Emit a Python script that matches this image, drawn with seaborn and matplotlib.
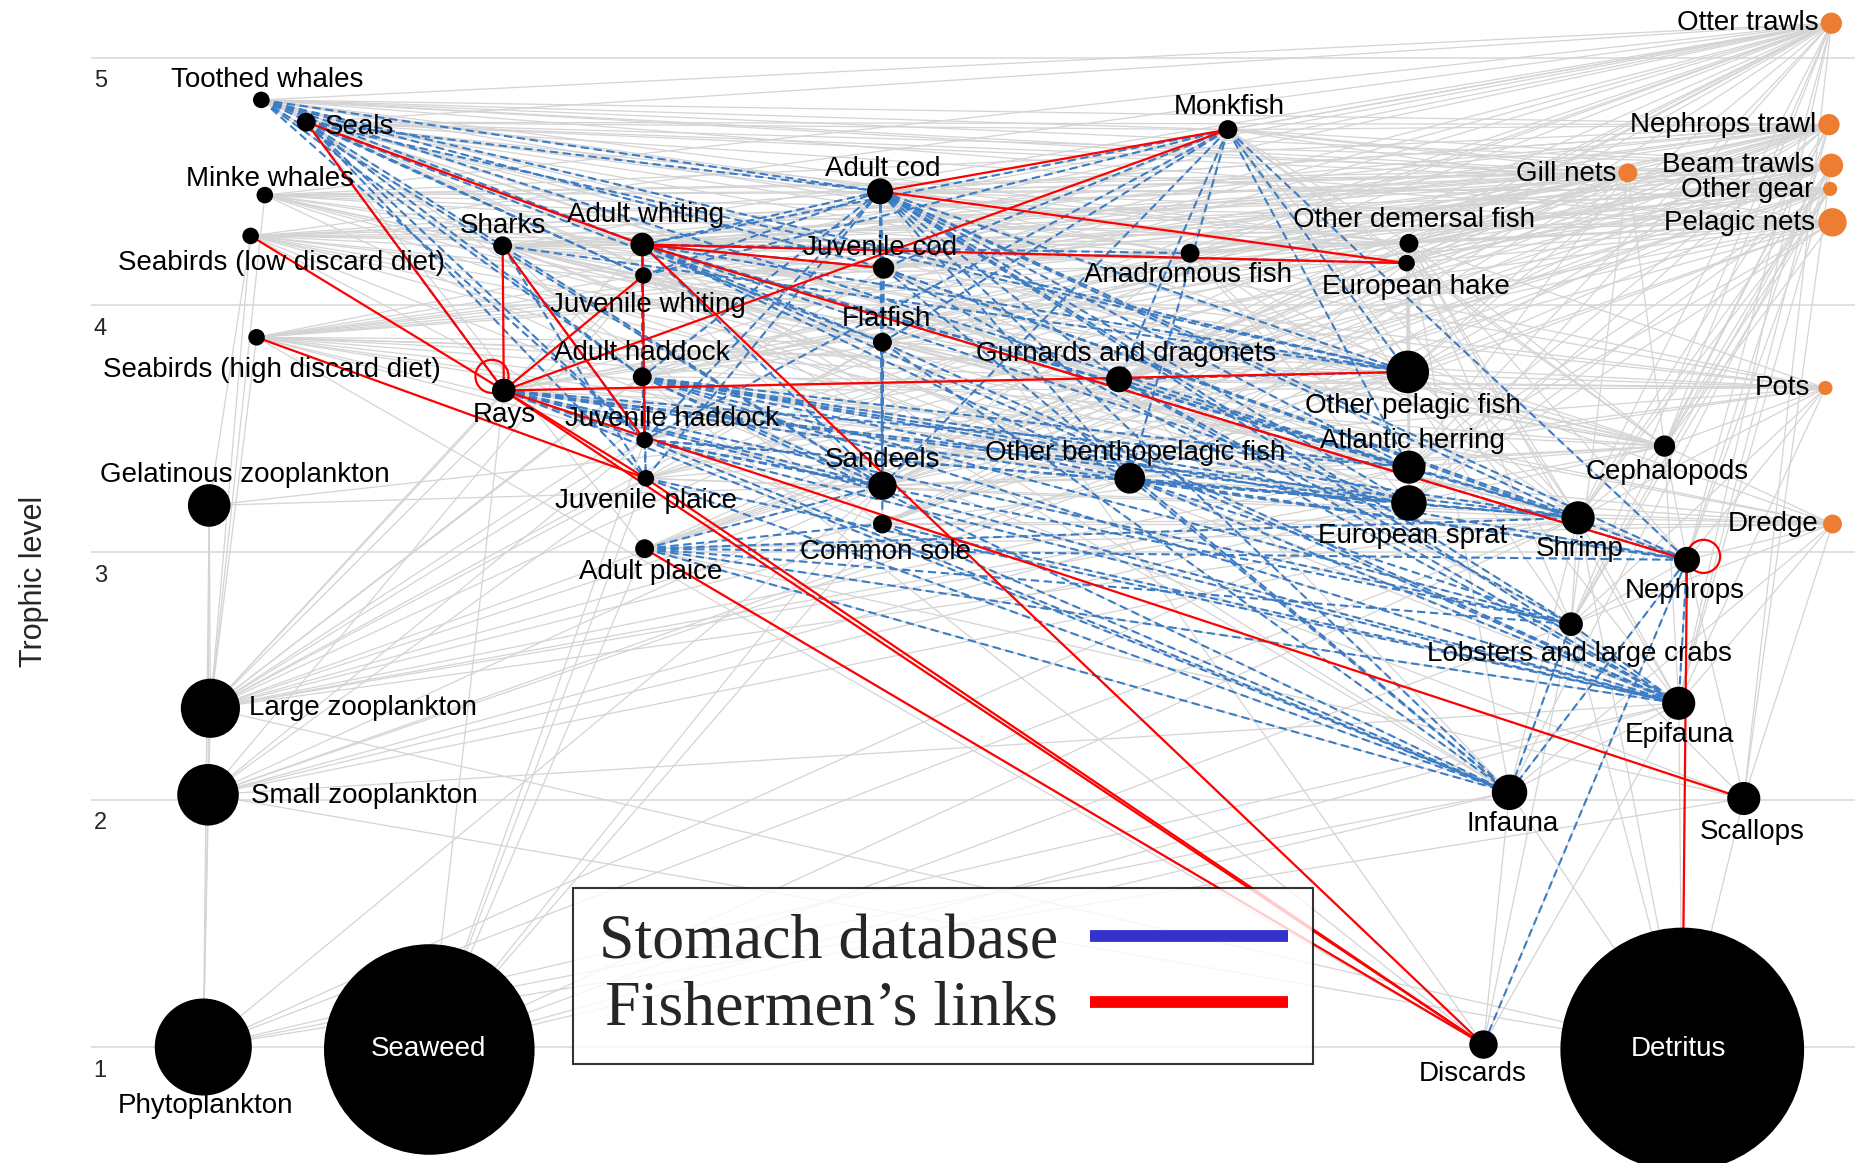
import pandas as pd
import seaborn as sns
import matplotlib.pyplot as plt
from matplotlib.lines import Line2D

# Food web groups: trophic level, layout position and node radius (px)
species = ['Toothed whales', 'Seals', 'Minke whales', 'Seabirds (low discard diet)',
           'Seabirds (high discard diet)', 'Sharks', 'Rays', 'Adult whiting', 'Juvenile whiting',
           'Adult haddock', 'Juvenile haddock', 'Juvenile plaice', 'Adult plaice', 'Adult cod',
           'Juvenile cod', 'Flatfish', 'Sandeels', 'Common sole', 'Monkfish', 'Anadromous fish',
           'Gurnards and dragonets', 'Other benthopelagic fish', 'Other demersal fish',
           'European hake', 'Other pelagic fish', 'Atlantic herring', 'European sprat', 'Shrimp',
           'Cephalopods', 'Nephrops', 'Lobsters and large crabs', 'Epifauna', 'Infauna',
           'Scallops', 'Discards', 'Detritus', 'Seaweed', 'Phytoplankton', 'Small zooplankton',
           'Large zooplankton', 'Gelatinous zooplankton']
trophic_level = [4.83, 4.74, 4.445, 4.28, 3.87, 4.24, 3.655, 4.245, 4.12, 3.71, 3.455, 3.30,
                 3.015, 4.46, 4.15, 3.85, 3.27, 3.115, 4.71, 4.21, 3.70, 3.30, 4.25, 4.17, 3.73,
                 3.345, 3.20, 3.14, 3.43, 2.97, 2.71, 2.39, 2.03, 2.005, 1.01, 0.99, 0.99, 1.0,
                 2.02, 2.37, 3.19]
layout_x = [22.1, 25.9, 22.4, 21.2, 21.7, 42.5, 42.6, 54.3, 54.4, 54.3, 54.5, 54.6, 54.5, 74.4,
            74.7, 74.6, 74.6, 74.6, 103.8, 100.6, 94.6, 95.5, 119.1, 118.9, 119.0, 119.1, 119.1,
            133.4, 140.7, 142.6, 132.8, 141.9, 127.6, 147.4, 125.4, 142.2, 36.3, 17.2, 17.6,
            17.8, 17.7]
node_radius = [7, 8, 7, 7, 7, 8, 10, 10, 7, 8, 7, 7, 8, 11, 9, 8, 12, 8, 8, 8, 11, 13, 8, 7,
               18, 14, 15, 14, 9, 11, 10, 14, 15, 14, 12, 103, 89, 41, 26, 25, 18]

# Fishing fleets
fleets = ['Otter trawls', 'Nephrops trawl', 'Gill nets', 'Beam trawls', 'Other gear',
          'Pelagic nets', 'Pots', 'Dredge']
fleet_level = [5.14, 4.73, 4.535, 4.565, 4.47, 4.335, 3.665, 3.115]
fleet_x = [154.8, 154.6, 137.6, 154.8, 154.7, 154.9, 154.3, 154.9]
fleet_radius = [9, 9, 8, 10, 6, 12, 6, 8]

# Trophic links from the model (grey)
diet = {
    'Toothed whales': ['Adult cod', 'Juvenile cod', 'Adult whiting', 'Juvenile whiting', 'Adult haddock',
                       'Monkfish', 'Other demersal fish', 'European hake', 'Other pelagic fish',
                       'Atlantic herring', 'Anadromous fish', 'Cephalopods', 'Gurnards and dragonets',
                       'Other benthopelagic fish', 'Sandeels', 'Flatfish'],
    'Seals': ['Adult cod', 'Juvenile cod', 'Adult whiting', 'Juvenile whiting', 'Adult haddock',
              'Juvenile haddock', 'Monkfish', 'Other demersal fish', 'European hake', 'Anadromous fish',
              'Other pelagic fish', 'Atlantic herring', 'Sandeels', 'Flatfish', 'Juvenile plaice',
              'Adult plaice', 'Common sole', 'Cephalopods', 'Gurnards and dragonets',
              'Other benthopelagic fish', 'Rays'],
    'Minke whales': ['Atlantic herring', 'European sprat', 'Sandeels', 'Other pelagic fish', 'Adult whiting',
                     'Juvenile whiting', 'Adult cod', 'Other demersal fish', 'Anadromous fish',
                     'Large zooplankton', 'Gurnards and dragonets', 'Other benthopelagic fish'],
    'Seabirds (low discard diet)': ['Sandeels', 'European sprat', 'Atlantic herring', 'Other pelagic fish',
                                    'Juvenile whiting', 'Juvenile haddock', 'Juvenile cod',
                                    'Gurnards and dragonets', 'Other benthopelagic fish', 'Large zooplankton',
                                    'Gelatinous zooplankton', 'Anadromous fish', 'Other demersal fish'],
    'Seabirds (high discard diet)': ['Discards', 'Sandeels', 'European sprat', 'Atlantic herring',
                                     'Other pelagic fish', 'Juvenile whiting', 'Juvenile haddock',
                                     'Gurnards and dragonets', 'Other benthopelagic fish', 'Cephalopods',
                                     'Large zooplankton', 'Flatfish', 'Other demersal fish'],
    'Sharks': ['Adult whiting', 'Juvenile whiting', 'Adult haddock', 'Juvenile haddock', 'Juvenile cod',
               'Other demersal fish', 'European hake', 'Other pelagic fish', 'Atlantic herring', 'Sandeels',
               'Flatfish', 'Gurnards and dragonets', 'Other benthopelagic fish', 'Cephalopods', 'Shrimp',
               'Epifauna', 'Rays'],
    'Rays': ['Shrimp', 'Epifauna', 'Infauna', 'Nephrops', 'Lobsters and large crabs', 'Sandeels',
             'Common sole', 'Juvenile plaice', 'Gurnards and dragonets', 'Other benthopelagic fish',
             'Large zooplankton', 'Discards', 'Cephalopods', 'Atlantic herring', 'European sprat'],
    'Adult cod': ['Juvenile cod', 'Adult whiting', 'Juvenile whiting', 'Juvenile haddock', 'Sandeels',
                  'Atlantic herring', 'European sprat', 'Other pelagic fish', 'Other demersal fish',
                  'Gurnards and dragonets', 'Other benthopelagic fish', 'Shrimp', 'Nephrops',
                  'Lobsters and large crabs', 'Epifauna', 'Infauna', 'Cephalopods', 'Common sole',
                  'Juvenile plaice', 'Flatfish', 'Discards', 'Large zooplankton'],
    'Monkfish': ['Adult whiting', 'Juvenile whiting', 'Juvenile cod', 'Adult haddock', 'Juvenile haddock',
                 'Gurnards and dragonets', 'Other benthopelagic fish', 'Other demersal fish', 'European hake',
                 'Flatfish', 'Sandeels', 'Atlantic herring', 'Other pelagic fish', 'Cephalopods', 'Shrimp',
                 'Nephrops', 'Lobsters and large crabs', 'Epifauna', 'Rays', 'Anadromous fish'],
    'Adult whiting': ['Juvenile whiting', 'Juvenile cod', 'Juvenile haddock', 'Sandeels', 'Atlantic herring',
                      'European sprat', 'Other pelagic fish', 'Gurnards and dragonets',
                      'Other benthopelagic fish', 'Shrimp', 'Nephrops', 'Epifauna', 'Infauna',
                      'Large zooplankton', 'Cephalopods', 'Discards', 'Flatfish'],
    'Juvenile whiting': ['Sandeels', 'European sprat', 'Shrimp', 'Large zooplankton', 'Small zooplankton',
                         'Epifauna', 'Infauna', 'Juvenile haddock'],
    'Juvenile cod': ['Sandeels', 'Shrimp', 'Large zooplankton', 'Epifauna', 'Infauna', 'Nephrops',
                     'Lobsters and large crabs', 'European sprat', 'Atlantic herring', 'Juvenile whiting'],
    'Adult haddock': ['Sandeels', 'Epifauna', 'Infauna', 'Shrimp', 'European sprat', 'Atlantic herring',
                      'Large zooplankton', 'Nephrops', 'Lobsters and large crabs', 'Scallops', 'Discards'],
    'Juvenile haddock': ['Epifauna', 'Infauna', 'Large zooplankton', 'Small zooplankton', 'Shrimp', 'Sandeels'],
    'Juvenile plaice': ['Infauna', 'Epifauna', 'Small zooplankton', 'Large zooplankton', 'Shrimp'],
    'Adult plaice': ['Infauna', 'Epifauna', 'Scallops', 'Shrimp', 'Sandeels', 'Discards'],
    'Flatfish': ['Sandeels', 'Infauna', 'Epifauna', 'Shrimp', 'Large zooplankton', 'Juvenile plaice',
                 'Common sole'],
    'Common sole': ['Infauna', 'Epifauna', 'Shrimp'],
    'Sandeels': ['Large zooplankton', 'Small zooplankton', 'Phytoplankton'],
    'Anadromous fish': ['Atlantic herring', 'European sprat', 'Sandeels', 'Large zooplankton',
                        'Other pelagic fish', 'Shrimp'],
    'Gurnards and dragonets': ['Shrimp', 'Epifauna', 'Infauna', 'Sandeels', 'Large zooplankton',
                               'European sprat', 'Lobsters and large crabs', 'Juvenile plaice'],
    'Other benthopelagic fish': ['Large zooplankton', 'Small zooplankton', 'Shrimp', 'Epifauna', 'Infauna',
                                 'Sandeels', 'European sprat', 'Gelatinous zooplankton'],
    'Other demersal fish': ['Shrimp', 'Epifauna', 'Infauna', 'Sandeels', 'Atlantic herring', 'European sprat',
                            'Other pelagic fish', 'Gurnards and dragonets', 'Nephrops', 'Cephalopods',
                            'Lobsters and large crabs', 'Juvenile whiting'],
    'European hake': ['Atlantic herring', 'European sprat', 'Other pelagic fish', 'Sandeels', 'Cephalopods',
                      'Shrimp', 'Juvenile whiting', 'Gurnards and dragonets', 'Other benthopelagic fish'],
    'Other pelagic fish': ['Large zooplankton', 'Small zooplankton', 'Gelatinous zooplankton', 'Shrimp',
                           'Sandeels', 'European sprat'],
    'Atlantic herring': ['Large zooplankton', 'Small zooplankton', 'Sandeels', 'Shrimp'],
    'European sprat': ['Large zooplankton', 'Small zooplankton', 'Phytoplankton'],
    'Cephalopods': ['Shrimp', 'Sandeels', 'European sprat', 'Atlantic herring', 'Juvenile whiting',
                    'Other pelagic fish', 'Epifauna', 'Large zooplankton', 'Nephrops', 'Other benthopelagic fish'],
    'Shrimp': ['Detritus', 'Infauna', 'Epifauna', 'Large zooplankton', 'Small zooplankton', 'Phytoplankton'],
    'Nephrops': ['Detritus', 'Infauna', 'Epifauna', 'Discards', 'Shrimp', 'Scallops'],
    'Lobsters and large crabs': ['Epifauna', 'Infauna', 'Detritus', 'Discards', 'Scallops', 'Shrimp', 'Nephrops'],
    'Epifauna': ['Detritus', 'Infauna', 'Discards', 'Phytoplankton', 'Seaweed', 'Small zooplankton'],
    'Infauna': ['Detritus', 'Phytoplankton', 'Discards', 'Seaweed'],
    'Scallops': ['Phytoplankton', 'Detritus'],
    'Gelatinous zooplankton': ['Large zooplankton', 'Small zooplankton', 'Phytoplankton'],
    'Large zooplankton': ['Small zooplankton', 'Phytoplankton', 'Detritus'],
    'Small zooplankton': ['Phytoplankton', 'Detritus'],
}
grazers_of_seaweed = ['Juvenile plaice', 'Common sole', 'Sandeels', 'Shrimp', 'Lobsters and large crabs',
                      'Adult plaice', 'Juvenile haddock', 'Rays']

fish_groups = ['Adult cod', 'Juvenile cod', 'Adult whiting', 'Juvenile whiting', 'Adult haddock',
               'Juvenile haddock', 'Juvenile plaice', 'Adult plaice', 'Flatfish', 'Sandeels', 'Common sole',
               'Monkfish', 'Anadromous fish', 'Gurnards and dragonets', 'Other benthopelagic fish',
               'Other demersal fish', 'European hake', 'Other pelagic fish', 'Atlantic herring',
               'European sprat', 'Rays', 'Sharks']
bycatch = ['Toothed whales', 'Seals', 'Minke whales', 'Seabirds (low discard diet)',
           'Seabirds (high discard diet)']
catch = {
    'Otter trawls': fish_groups + bycatch + ['Nephrops', 'Shrimp', 'Cephalopods', 'Lobsters and large crabs',
                                             'Epifauna', 'Scallops'],
    'Nephrops trawl': fish_groups + bycatch + ['Nephrops', 'Lobsters and large crabs', 'Cephalopods',
                                               'Shrimp', 'Epifauna'],
    'Gill nets': ['Adult cod', 'Monkfish', 'European hake', 'Other demersal fish', 'Adult plaice', 'Common sole',
                  'Rays', 'Sharks', 'Flatfish', 'Adult whiting', 'Adult haddock', 'Juvenile cod',
                  'Lobsters and large crabs', 'Gurnards and dragonets', 'Other pelagic fish', 'Anadromous fish',
                  'Other benthopelagic fish', 'Atlantic herring', 'Cephalopods'] + bycatch,
    'Beam trawls': ['Common sole', 'Adult plaice', 'Juvenile plaice', 'Flatfish', 'Adult cod', 'Adult whiting',
                    'Gurnards and dragonets', 'Rays', 'Monkfish', 'Epifauna', 'Shrimp', 'Scallops',
                    'Other benthopelagic fish', 'Other demersal fish', 'Juvenile haddock', 'Juvenile whiting',
                    'Cephalopods', 'Lobsters and large crabs', 'Sharks', 'Juvenile cod', 'Adult haddock',
                    'European hake', 'Nephrops', 'Infauna'] + bycatch,
    'Other gear': ['Shrimp', 'Adult cod', 'Other pelagic fish', 'Sandeels', 'Flatfish', 'Common sole',
                   'Lobsters and large crabs', 'Cephalopods', 'Anadromous fish', 'Atlantic herring',
                   'Adult plaice', 'European sprat', 'Adult whiting', 'Other demersal fish', 'Monkfish',
                   'Rays', 'Sharks', 'Gurnards and dragonets'] + bycatch,
    'Pelagic nets': ['Atlantic herring', 'European sprat', 'Other pelagic fish', 'Sandeels', 'Adult whiting',
                     'Juvenile whiting', 'Anadromous fish', 'Sharks', 'Cephalopods',
                     'Other benthopelagic fish', 'Adult haddock', 'European hake', 'Adult cod',
                     'Juvenile haddock', 'Gurnards and dragonets', 'Other demersal fish', 'Monkfish',
                     'Juvenile cod'] + bycatch,
    'Pots': ['Lobsters and large crabs', 'Nephrops', 'Cephalopods', 'Epifauna', 'Shrimp', 'Adult cod',
             'Gurnards and dragonets', 'Other demersal fish', 'Rays', 'Adult whiting', 'Adult haddock',
             'Other benthopelagic fish', 'Juvenile plaice', 'Flatfish', 'Seals', 'Seabirds (high discard diet)',
             'Common sole', 'Sharks'],
    'Dredge': ['Scallops', 'Epifauna', 'Lobsters and large crabs', 'Adult plaice', 'Common sole', 'Rays',
               'Juvenile plaice', 'Cephalopods', 'Shrimp', 'Nephrops', 'Adult cod', 'Flatfish',
               'Gurnards and dragonets', 'Other benthopelagic fish', 'Infauna'],
}

# Links confirmed by the stomach database (blue, dashed)
stomach_links = {
    'Toothed whales': ['Adult cod', 'Juvenile cod', 'Adult whiting', 'Juvenile whiting', 'Adult haddock',
                       'Juvenile haddock', 'Sandeels', 'Other pelagic fish', 'Atlantic herring'],
    'Seals': ['Adult cod', 'Adult whiting', 'Juvenile whiting', 'Adult haddock', 'Juvenile haddock',
              'Juvenile plaice', 'Sandeels', 'Flatfish', 'Rays', 'Other pelagic fish'],
    'Sharks': ['Juvenile haddock', 'Juvenile plaice', 'Other pelagic fish'],
    'Adult cod': ['Juvenile cod', 'Adult whiting', 'Juvenile whiting', 'Adult haddock', 'Juvenile haddock',
                  'Flatfish', 'Sandeels', 'Common sole', 'Atlantic herring', 'European sprat',
                  'Other pelagic fish', 'Shrimp', 'Nephrops', 'Lobsters and large crabs', 'Epifauna',
                  'Infauna', 'Gurnards and dragonets', 'Other benthopelagic fish', 'Juvenile plaice'],
    'Monkfish': ['Adult whiting', 'Juvenile cod', 'Flatfish', 'Gurnards and dragonets', 'Sandeels',
                 'Other pelagic fish', 'Atlantic herring', 'Juvenile haddock', 'Nephrops',
                 'Other benthopelagic fish', 'Juvenile whiting'],
    'Adult whiting': ['Anadromous fish', 'Juvenile cod', 'Juvenile whiting', 'Adult haddock', 'Juvenile haddock',
                      'Sandeels', 'Atlantic herring', 'European sprat', 'Shrimp', 'Nephrops', 'Juvenile plaice',
                      'Other benthopelagic fish', 'Other pelagic fish', 'Epifauna', 'Flatfish', 'European hake'],
    'Adult haddock': ['Sandeels', 'Atlantic herring', 'European sprat', 'Shrimp', 'Epifauna', 'Infauna',
                      'Lobsters and large crabs', 'Other benthopelagic fish', 'Nephrops', 'Juvenile plaice'],
    'Juvenile haddock': ['Sandeels', 'Shrimp', 'Epifauna', 'Infauna', 'European sprat', 'Lobsters and large crabs'],
    'Juvenile plaice': ['Infauna', 'Epifauna'],
    'Adult plaice': ['Infauna', 'Epifauna', 'Shrimp', 'Sandeels', 'Lobsters and large crabs', 'Common sole',
                     'Nephrops'],
    'Rays': ['Sandeels', 'Shrimp', 'Epifauna', 'Infauna', 'Juvenile haddock', 'Atlantic herring',
             'Lobsters and large crabs', 'Nephrops', 'European sprat'],
    'Juvenile cod': ['Flatfish', 'Sandeels', 'Shrimp', 'Nephrops', 'Epifauna', 'Infauna'],
    'Flatfish': ['Sandeels', 'Infauna', 'Epifauna'],
    'Common sole': ['Infauna', 'Epifauna'],
    'Gurnards and dragonets': ['Shrimp', 'Epifauna', 'Other pelagic fish', 'Lobsters and large crabs'],
    'Other benthopelagic fish': ['Shrimp', 'Epifauna', 'Infauna', 'Nephrops', 'Lobsters and large crabs'],
    'Nephrops': ['Epifauna', 'Infauna', 'Discards'],
    'Lobsters and large crabs': ['Epifauna', 'Infauna'],
}

# Links added from fishermen's knowledge (red)
fisher_links = [('Seals', 'Rays'), ('Seals', 'Adult whiting'), ('Seabirds (low discard diet)', 'Rays'),
                ('Seabirds (high discard diet)', 'Juvenile plaice'), ('Sharks', 'Rays'),
                ('Sharks', 'Juvenile haddock'), ('Juvenile whiting', 'Rays'), ('Monkfish', 'Rays'),
                ('Monkfish', 'Adult cod'), ('Adult cod', 'European hake'),
                ('Adult whiting', 'Juvenile cod'), ('Adult whiting', 'European hake'),
                ('Adult whiting', 'Juvenile haddock'), ('Adult whiting', 'Nephrops'),
                ('Adult whiting', 'Discards'), ('Rays', 'Other pelagic fish'), ('Rays', 'Scallops'),
                ('Rays', 'Discards'), ('Rays', 'Juvenile plaice'), ('Juvenile plaice', 'Discards'),
                ('Adult plaice', 'Discards'), ('Nephrops', 'Detritus')]
fisher_loops = ['Rays', 'Nephrops']

# Label placement: offset from the node centre (px, y down) and alignment
label_pos = {
    'Toothed whales': (5, -17, 'center'), 'Seals': (16, 4, 'left'), 'Minke whales': (4, -14, 'center'),
    'Seabirds (low discard diet)': (26, 23, 'center'), 'Seabirds (high discard diet)': (13, 28, 'center'),
    'Sharks': (0, -17, 'center'), 'Rays': (0, 21, 'center'), 'Adult whiting': (3, -25, 'center'),
    'Juvenile whiting': (4, 25, 'center'), 'Adult haddock': (0, -20, 'center'),
    'Juvenile haddock': (23, -18, 'center'), 'Juvenile plaice': (0, 19, 'center'),
    'Adult plaice': (5, 20, 'center'), 'Adult cod': (2, -19, 'center'), 'Juvenile cod': (-3, -17, 'center'),
    'Flatfish': (3, -20, 'center'), 'Sandeels': (0, -22, 'center'), 'Common sole': (3, 24, 'center'),
    'Monkfish': (1, -19, 'center'), 'Anadromous fish': (-2, 18, 'center'),
    'Gurnards and dragonets': (6, -21, 'center'), 'Other benthopelagic fish': (5, -21, 'center'),
    'Other demersal fish': (4, -20, 'center'), 'European hake': (8, 20, 'center'),
    'Other pelagic fish': (4, 29, 'center'), 'Atlantic herring': (3, -22, 'center'),
    'European sprat': (3, 28, 'center'), 'Shrimp': (1, 26, 'center'), 'Cephalopods': (2, 22, 'center'),
    'Nephrops': (-2, 26, 'center'), 'Lobsters and large crabs': (7, 25, 'center'),
    'Epifauna': (1, 27, 'center'), 'Infauna': (3, 27, 'center'), 'Scallops': (7, 28, 'center'),
    'Discards': (-9, 25, 'center'), 'Detritus': (-3, 0, 'center'), 'Seaweed': (-1, 0, 'center'),
    'Phytoplankton': (2, 50, 'center'), 'Small zooplankton': (36, 1, 'left'),
    'Large zooplankton': (33, 0, 'left'), 'Gelatinous zooplankton': (30, -26, 'center'),
    'Otter trawls': (-11, 0, 'right'), 'Nephrops trawl': (-11, 0, 'right'), 'Gill nets': (-10, 1, 'right'),
    'Beam trawls': (-14, 0, 'right'), 'Other gear': (-14, 1, 'right'), 'Pelagic nets': (-15, 1, 'right'),
    'Pots': (-13, 0, 'right'), 'Dredge': (-12, 0, 'right'),
}

PX = 1.183 * 0.72   # reference px -> points

nodes = pd.DataFrame({
    'name': species + fleets,
    'x': layout_x + fleet_x,
    'tl': trophic_level + fleet_level,
    'radius': node_radius + fleet_radius,
    'kind': ['group'] * len(species) + ['fleet'] * len(fleets),
})
pos = {r.name: (r.x, r.tl) for r in nodes.itertuples()}


def edge_frame(pairs):
    rows = []
    for i, (a, b) in enumerate(pairs):
        rows.append((i, pos[a][0], pos[a][1]))
        rows.append((i, pos[b][0], pos[b][1]))
    return pd.DataFrame(rows, columns=['edge', 'x', 'y'])


grey_pairs = [(p, q) for p, preys in diet.items() for q in preys]
grey_pairs += [(g, 'Seaweed') for g in grazers_of_seaweed]
grey_pairs += [(f, s) for f, caught in catch.items() for s in caught]
blue_pairs = [(p, q) for p, preys in stomach_links.items() for q in preys]

sns.set_theme(style='white')
plt.rcParams['font.family'] = ['Liberation Sans', 'DejaVu Sans']

fig = plt.figure(figsize=(18.55, 11.63), dpi=100)
ax = fig.add_axes([0.049, 0.0, 0.951, 1.0])

# Edges
sns.lineplot(data=edge_frame(grey_pairs), x='x', y='y', units='edge', estimator=None, sort=False,
             color='#d4d4d4', lw=0.9, ax=ax, zorder=1)
sns.lineplot(data=edge_frame(blue_pairs), x='x', y='y', units='edge', estimator=None, sort=False,
             color='#3b7cc4', lw=1.5, linestyle=(0, (4, 2.2)), ax=ax, zorder=2)
sns.lineplot(data=edge_frame(fisher_links), x='x', y='y', units='edge', estimator=None, sort=False,
             color='#ff0000', lw=1.6, ax=ax, zorder=3)

# Cannibalism loops reported by fishermen
loop_shift = {'Rays': (-1.0, 0.057), 'Nephrops': (1.4, 0.014)}
ax.scatter([pos[n][0] + loop_shift[n][0] for n in fisher_loops],
           [pos[n][1] + loop_shift[n][1] for n in fisher_loops],
           s=(2 * 14 * PX) ** 2, facecolors='none', edgecolors='#ff0000', linewidths=1.6, zorder=3)

# Nodes
sns.scatterplot(data=nodes, x='x', y='tl', hue='kind', palette={'group': 'black', 'fleet': '#ed7d31'},
                size='name', sizes={r.name: (2 * r.radius * PX) ** 2 for r in nodes.itertuples()},
                linewidth=0, legend=False, ax=ax, zorder=4)

for r in nodes.itertuples():
    dx, dy, ha = label_pos[r.name]
    white = r.name in ('Detritus', 'Seaweed')
    ax.annotate(r.name, xy=(r.x, r.tl), xytext=(dx * PX, -dy * PX), textcoords='offset points',
                ha=ha, va='center', fontsize=20, color='white' if white else 'black', zorder=5)

# Axes: x runs from the left end of the grid lines to the right edge
ax.set_xlim(7.7, 156.8)
ax.set_ylim(0.531, 5.234)
ax.set_yticks([1, 2, 3, 4, 5])
ax.tick_params(axis='y', length=0, labelleft=False)
ax.set_xticks([])
ax.grid(axis='y', color='#dddddd', lw=1.3)
ax.set_axisbelow(True)
for side in ax.spines.values():
    side.set_visible(False)
for lev in [1, 2, 3, 4, 5]:
    ax.annotate(str(lev), xy=(0, lev), xycoords=('axes fraction', 'data'), xytext=(2, -9),
                textcoords='offset points', ha='left', va='top', fontsize=17)
ax.set_xlabel('')
ax.set_ylabel('Trophic level', fontsize=22, labelpad=30)

# Legend
handles = [Line2D([], [], color='#3333cc', lw=8.5, solid_capstyle='butt'),
           Line2D([], [], color='#ff0000', lw=8.5, solid_capstyle='butt')]
leg = ax.legend(handles, ['Stomach database', 'Fishermen\u2019s links'], loc='upper left',
                bbox_to_anchor=(573 / 1855, 1 - 888 / 1163), bbox_transform=fig.transFigure,
                markerfirst=False, frameon=True, fancybox=False, edgecolor='black',
                prop={'family': 'Liberation Serif', 'size': 46}, handlelength=3.1,
                handletextpad=0.5, borderpad=0.4, labelspacing=0.12, borderaxespad=0)
leg.get_frame().set_linewidth(1.5)
leg.set_zorder(6)

plt.savefig('out.png', dpi=100)
